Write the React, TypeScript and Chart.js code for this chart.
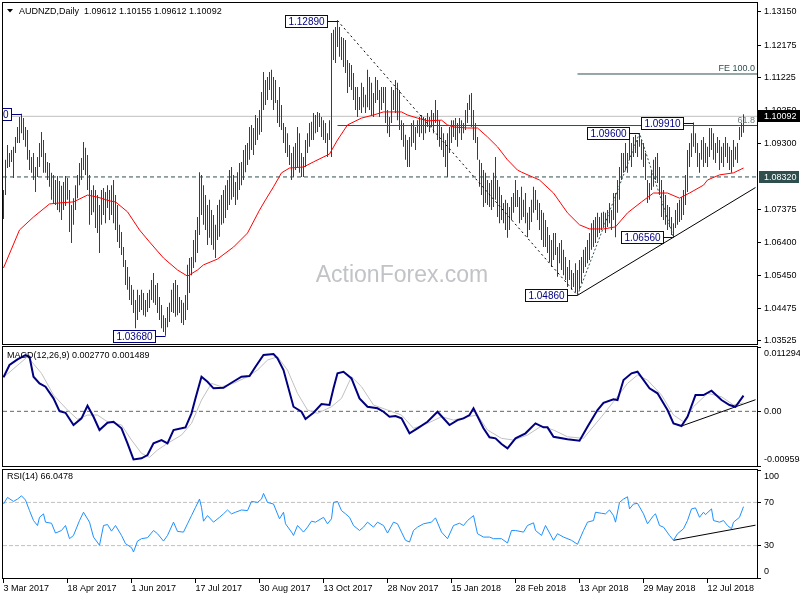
import React, { useEffect, useRef } from 'react';
import { Chart, registerables } from 'chart.js';

Chart.register(...registerables);

const FONT = '"Liberation Sans", Arial, sans-serif';

// ---------- instrument ----------
const SYMBOL = 'AUDNZD';
const PERIOD = 'Daily';
const lastOHLC = [1.09612, 1.10155, 1.09612, 1.10092];
const WATERMARK = 'ActionForex.com';

// ---------- time axis ----------
const dateIdx = [0, 32, 64, 96, 128, 160, 192, 224, 256, 288, 320, 352];
const dateLabels = ['3 Mar 2017', '18 Apr 2017', '1 Jun 2017', '17 Jul 2017', '30 Aug 2017', '13 Oct 2017',
  '28 Nov 2017', '15 Jan 2018', '28 Feb 2018', '13 Apr 2018', '29 May 2018', '12 Jul 2018'];
const X_MIN = -0.25;
const X_MAX = 376.75;

// ---------- daily bars (high / low) ----------
const highs = [
  1.0794, 1.0882, 1.0925, 1.0902, 1.0911, 1.0920, 1.0949, 1.0978, 1.1007, 1.1017,
  1.1004, 1.0978, 1.0969, 1.0911, 1.0890, 1.0902, 1.0861, 1.0890, 1.0931, 1.0963,
  1.0940, 1.0902, 1.0876, 1.0873, 1.0844, 1.0838, 1.0823, 1.0835, 1.0820, 1.0806,
  1.0817, 1.0835, 1.0829, 1.0794, 1.0750, 1.0770, 1.0808, 1.0838, 1.0873, 1.0887,
  1.0934, 1.0917, 1.0896, 1.0838, 1.0794, 1.0808, 1.0794, 1.0779, 1.0750, 1.0794,
  1.0800, 1.0788, 1.0808, 1.0794, 1.0808, 1.0823, 1.0779, 1.0750, 1.0692, 1.0671,
  1.0627, 1.0589, 1.0569, 1.0540, 1.0516, 1.0502, 1.0472, 1.0502, 1.0487, 1.0502,
  1.0493, 1.0472, 1.0493, 1.0502, 1.0531, 1.0551, 1.0516, 1.0522, 1.0481, 1.0458,
  1.0428, 1.0420, 1.0452, 1.0464, 1.0502, 1.0522, 1.0531, 1.0516, 1.0481, 1.0472,
  1.0464, 1.0487, 1.0575, 1.0595, 1.0598, 1.0648, 1.0677, 1.0715, 1.0846, 1.0838,
  1.0808, 1.0779, 1.0750, 1.0765, 1.0735, 1.0721, 1.0692, 1.0750, 1.0765, 1.0779,
  1.0794, 1.0808, 1.0823, 1.0852, 1.0861, 1.0838, 1.0817, 1.0846, 1.0873, 1.0876,
  1.0911, 1.0925, 1.0931, 1.0978, 1.0984, 1.0975, 1.1013, 1.1004, 1.1028, 1.1080,
  1.1139, 1.1115, 1.1124, 1.1139, 1.1145, 1.1124, 1.1115, 1.1057, 1.1095, 1.1042,
  1.0990, 1.0978, 1.0960, 1.0925, 1.0902, 1.0920, 1.0931, 1.0978, 1.0960, 1.0902,
  1.0890, 1.0940, 1.0960, 1.0990, 1.0993, 1.1019, 1.1013, 1.1022, 1.1019, 1.1007,
  1.0998, 1.0990, 1.0960, 1.0998, 1.1253, 1.1262, 1.1270, 1.1289, 1.1270, 1.1241,
  1.1238, 1.1232, 1.1174, 1.1165, 1.1159, 1.1136, 1.1095, 1.1095, 1.1066, 1.1107,
  1.1095, 1.1072, 1.1145, 1.1124, 1.1107, 1.1077, 1.1124, 1.1115, 1.1086, 1.1095,
  1.1095, 1.1095, 1.1028, 1.1007, 1.1095, 1.1086, 1.1115, 1.1107, 1.1086, 1.0998,
  1.0990, 1.0955, 1.0940, 1.0949, 1.0990, 1.0998, 1.0978, 1.0998, 1.1007, 1.1013,
  1.1007, 1.1004, 1.1019, 1.1007, 1.1028, 1.1019, 1.1057, 1.1028, 1.0998, 1.0978,
  1.0960, 1.0940, 1.0960, 1.0978, 1.0998, 1.0998, 1.1004, 1.0990, 1.1004, 1.0998,
  1.0990, 1.1028, 1.1048, 1.1072, 1.1077, 1.1028, 1.0990, 1.0949, 1.0882, 1.0873,
  1.0852, 1.0844, 1.0823, 1.0814, 1.0823, 1.0844, 1.0890, 1.0823, 1.0803, 1.0779,
  1.0756, 1.0765, 1.0756, 1.0744, 1.0773, 1.0785, 1.0823, 1.0794, 1.0773, 1.0803,
  1.0765, 1.0785, 1.0727, 1.0744, 1.0765, 1.0803, 1.0794, 1.0765, 1.0756, 1.0735,
  1.0727, 1.0706, 1.0686, 1.0662, 1.0648, 1.0668, 1.0668, 1.0627, 1.0639, 1.0648,
  1.0619, 1.0598, 1.0569, 1.0589, 1.0560, 1.0551, 1.0580, 1.0560, 1.0589, 1.0598,
  1.0619, 1.0627, 1.0648, 1.0668, 1.0697, 1.0706, 1.0715, 1.0727, 1.0715, 1.0727,
  1.0730, 1.0727, 1.0735, 1.0756, 1.0735, 1.0785, 1.0785, 1.0823, 1.0861, 1.0902,
  1.0902, 1.0931, 1.0902, 1.0940, 1.0931, 1.0949, 1.0955, 1.0940, 1.0960, 1.0940,
  1.0931, 1.0902, 1.0823, 1.0814, 1.0852, 1.0882, 1.0890, 1.0902, 1.0861, 1.0823,
  1.0794, 1.0779, 1.0750, 1.0744, 1.0715, 1.0697, 1.0735, 1.0756, 1.0765, 1.0773,
  1.0794, 1.0838, 1.0911, 1.0931, 1.0960, 1.0991, 1.0960, 1.0931, 1.0902, 1.0940,
  1.0949, 1.0931, 1.0920, 1.0975, 1.0975, 1.0960, 1.0931, 1.0949, 1.0940, 1.0920,
  1.0931, 1.0949, 1.0931, 1.0920, 1.0911, 1.0940, 1.0920, 1.0931, 1.0978, 1.0990,
  1.10155,
];
const lows = [
  1.0709, 1.0779, 1.0858, 1.0861, 1.0876, 1.0829, 1.0902, 1.0931, 1.0931, 1.0960,
  1.0940, 1.0920, 1.0882, 1.0852, 1.0844, 1.0823, 1.0788, 1.0832, 1.0861, 1.0890,
  1.0844, 1.0844, 1.0823, 1.0803, 1.0765, 1.0753, 1.0750, 1.0735, 1.0729, 1.0706,
  1.0735, 1.0747, 1.0765, 1.0671, 1.0639, 1.0692, 1.0735, 1.0770, 1.0808, 1.0823,
  1.0852, 1.0838, 1.0794, 1.0692, 1.0721, 1.0729, 1.0683, 1.0668, 1.0610, 1.0692,
  1.0721, 1.0697, 1.0741, 1.0706, 1.0721, 1.0697, 1.0677, 1.0642, 1.0624, 1.0604,
  1.0569, 1.0516, 1.0502, 1.0472, 1.0458, 1.0434, 1.0390, 1.0414, 1.0437, 1.0443,
  1.0428, 1.0423, 1.0437, 1.0449, 1.0472, 1.0464, 1.0458, 1.0434, 1.0414, 1.0390,
  1.0379, 1.0368, 1.0393, 1.0408, 1.0437, 1.0434, 1.0423, 1.0428, 1.0434, 1.0405,
  1.0399, 1.0414, 1.0443, 1.0493, 1.0545, 1.0566, 1.0583, 1.0610, 1.0662, 1.0721,
  1.0692, 1.0677, 1.0633, 1.0654, 1.0633, 1.0619, 1.0595, 1.0648, 1.0657, 1.0692,
  1.0697, 1.0712, 1.0735, 1.0750, 1.0765, 1.0773, 1.0750, 1.0765, 1.0794, 1.0808,
  1.0823, 1.0846, 1.0867, 1.0882, 1.0911, 1.0896, 1.0925, 1.0940, 1.0955, 1.0963,
  1.1028, 1.1042, 1.1057, 1.1086, 1.1057, 1.1028, 1.1048, 1.0990, 1.0978, 1.0969,
  1.0931, 1.0902, 1.0890, 1.0867, 1.0823, 1.0832, 1.0852, 1.0861, 1.0844, 1.0832,
  1.0832, 1.0861, 1.0902, 1.0920, 1.0940, 1.0940, 1.0960, 1.0963, 1.0978, 1.0949,
  1.0940, 1.0931, 1.0890, 1.0940, 1.0890, 1.1174, 1.1165, 1.1212, 1.1183, 1.1174,
  1.1153, 1.1136, 1.1077, 1.1095, 1.1086, 1.1057, 1.1028, 1.1007, 1.1028, 1.1019,
  1.1036, 1.1019, 1.1036, 1.1028, 1.1013, 1.1007, 1.1048, 1.1057, 1.1007, 1.1028,
  1.1048, 1.0990, 1.0960, 1.0949, 1.0990, 1.1028, 1.1019, 1.0998, 1.0969, 1.0940,
  1.0920, 1.0882, 1.0861, 1.0861, 1.0920, 1.0931, 1.0911, 1.0960, 1.0949, 1.0960,
  1.0940, 1.0960, 1.0978, 1.0963, 1.0978, 1.0960, 1.0990, 1.0940, 1.0920, 1.0911,
  1.0890, 1.0861, 1.0832, 1.0902, 1.0931, 1.0949, 1.0940, 1.0920, 1.0960, 1.0940,
  1.0960, 1.0969, 1.0990, 1.1028, 1.0978, 1.0940, 1.0931, 1.0882, 1.0803, 1.0779,
  1.0744, 1.0756, 1.0750, 1.0744, 1.0735, 1.0744, 1.0765, 1.0715, 1.0697, 1.0706,
  1.0697, 1.0677, 1.0654, 1.0677, 1.0706, 1.0727, 1.0744, 1.0744, 1.0697, 1.0706,
  1.0715, 1.0697, 1.0656, 1.0677, 1.0700, 1.0727, 1.0735, 1.0706, 1.0677, 1.0648,
  1.0627, 1.0627, 1.0610, 1.0583, 1.0569, 1.0589, 1.0604, 1.0540, 1.0580, 1.0560,
  1.0545, 1.0531, 1.0510, 1.0531, 1.0502, 1.0510, 1.0496, 1.0486, 1.0502, 1.0522,
  1.0551, 1.0569, 1.0580, 1.0589, 1.0619, 1.0627, 1.0639, 1.0656, 1.0668, 1.0677,
  1.0686, 1.0668, 1.0686, 1.0697, 1.0677, 1.0706, 1.0656, 1.0727, 1.0765, 1.0823,
  1.0844, 1.0852, 1.0844, 1.0882, 1.0861, 1.0890, 1.0902, 1.0890, 1.0920, 1.0882,
  1.0861, 1.0823, 1.0756, 1.0765, 1.0794, 1.0803, 1.0823, 1.0814, 1.0779, 1.0715,
  1.0706, 1.0692, 1.0677, 1.0686, 1.0662, 1.0656, 1.0683, 1.0692, 1.0700, 1.0706,
  1.0721, 1.0750, 1.0788, 1.0861, 1.0890, 1.0920, 1.0902, 1.0861, 1.0844, 1.0882,
  1.0861, 1.0873, 1.0861, 1.0890, 1.0911, 1.0882, 1.0873, 1.0902, 1.0852, 1.0873,
  1.0861, 1.0890, 1.0873, 1.0852, 1.0844, 1.0861, 1.0882, 1.0873, 1.0940, 1.0949,
  1.09612,
];

// ---------- moving average (read at sample bars) ----------
const maIdx = [0, 8, 15, 23, 28, 35, 42, 47, 53, 56, 62, 68, 73, 80, 87, 92, 97, 100, 107, 115,
  122, 128, 131, 135, 139, 143, 150, 155, 163, 167, 172, 179, 185, 190, 199, 202, 207, 212, 219, 222,
  225, 232, 237, 242, 247, 252, 257, 259, 268, 275, 282, 288, 293, 300, 306, 312, 319, 325, 332, 338,
  343, 350, 352, 358, 365, 370];
const maVal = [1.0566, 1.0677, 1.0715, 1.0753, 1.0756, 1.0759, 1.0779, 1.0773, 1.0762, 1.0759,
  1.0730, 1.0677, 1.0642, 1.0595, 1.0560, 1.0542, 1.0560, 1.0575, 1.0592, 1.0627,
  1.0668, 1.0735, 1.0765, 1.0803, 1.0844, 1.0858, 1.0861, 1.0876, 1.0899, 1.0940,
  1.0984, 1.1004, 1.1013, 1.1022, 1.1022, 1.1013, 1.1004, 1.0996, 1.0998, 1.0984,
  1.0978, 1.0975, 1.0975, 1.0949, 1.0920, 1.0882, 1.0852, 1.0846, 1.0823, 1.0785,
  1.0727, 1.0692, 1.0680, 1.0680, 1.0686, 1.0727, 1.0759, 1.0785, 1.0785, 1.0770,
  1.0785, 1.0808, 1.0823, 1.0838, 1.0844, 1.0858];

// ---------- price levels & drawings ----------
const priceTicks = [1.1315, 1.12175, 1.11225, 1.1025, 1.093, 1.07375, 1.064, 1.0545, 1.04475, 1.03525];
const PRICE_MIN = 1.03437;
const PRICE_MAX = 1.13404;
const bidPrice = 1.10092;
const supportLevel = 1.0832;
const fib618 = 1.09823;
const fib618Start = 167;
const fe100 = 1.11329;
const fe100Start = 287;
const retraceIdx = [167, 287];
const retraceVal = [1.1289, 1.0486];
const feIdx = [287, 318, 335];
const feVal = [1.0486, 1.096, 1.0656];
const trendIdx = [287, 376];
const trendVal = [1.0486, 1.0801];
const pivotIdx = [9, 167, 81, 287, 318, 335, 345];
const pivotVal = [1.1017, 1.1289, 1.0368, 1.0486, 1.096, 1.0656, 1.0991];

// ---------- MACD(12,26,9) ----------
const macdIdx = [0, 3, 7, 11, 13, 15, 18, 21, 25, 28, 31, 35, 39, 42, 45, 48, 52, 55, 59, 62,
  65, 69, 72, 75, 79, 82, 85, 89, 91, 94, 96, 99, 102, 105, 110, 114, 119, 123, 126, 130,
  135, 137, 140, 145, 149, 151, 155, 159, 163, 165, 167, 170, 174, 178, 182, 187, 190, 193, 196, 199,
  203, 207, 212, 217, 223, 227, 230, 233, 235, 240, 243, 246, 249, 252, 256, 261, 266, 270, 272, 275,
  282, 288, 292, 297, 300, 305, 307, 310, 314, 317, 323, 327, 332, 335, 339, 342, 346, 350, 354, 359,
  363, 366, 370];
const macdVal = [0.00597, 0.00813, 0.00913, 0.00988, 0.00958, 0.00607, 0.00491, 0.00432, 0.00228, 0.00005,
  -0.00025, -0.0024, -0.00123, 0.00098, -0.00095, -0.00328, -0.002, -0.00183, -0.00298, -0.00562,
  -0.00843, -0.00825, -0.00767, -0.00562, -0.00504, -0.00562, -0.00328, -0.00298, -0.00281, -0.00035,
  0.00228, 0.00607, 0.0052, 0.00404, 0.00414, 0.00502, 0.00607, 0.0062, 0.00783, 0.00988,
  0.01006, 0.0093, 0.00725, 0.00081, -0.00007, -0.00135, -0.00025, 0.00128, 0.00111, 0.00404,
  0.00667, 0.00695, 0.00579, 0.00228, 0.00081, 0.00053, -0.00007, -0.00095, -0.00082, -0.00123,
  -0.00386, -0.00298, -0.00183, -0.00007, -0.0024, -0.00153, -0.00123, -0.00065, 0.00053, -0.00298,
  -0.00456, -0.00474, -0.00574, -0.00649, -0.00474, -0.00386, -0.00211, -0.00281, -0.00281, -0.00446,
  -0.00491, -0.00516, -0.0027, 0.00023, 0.00151, 0.00211, 0.00198, 0.00549, 0.00667, 0.00695,
  0.00404, 0.00316, 0.00023, -0.00211, -0.00258, -0.00095, 0.00286, 0.00286, 0.00362, 0.00198,
  0.00111, 0.00081, 0.00277];
const sigIdx = [0, 12, 19, 25, 32, 37, 42, 47, 52, 59, 64, 69, 73, 77, 82, 89, 94, 99, 104, 109,
  115, 122, 127, 132, 137, 142, 147, 152, 157, 164, 169, 174, 179, 185, 192, 199, 205, 212, 219, 225,
  232, 237, 242, 249, 255, 262, 269, 275, 282, 290, 299, 305, 312, 317, 322, 329, 335, 340, 345, 352,
  359, 365, 370];
const sigVal = [0.00597, 0.00958, 0.00667, 0.00286, 0.00023, -0.0014, -0.00065, -0.00065, -0.00183, -0.0024,
  -0.00504, -0.00737, -0.00807, -0.00679, -0.00562, -0.00416, -0.00211, 0.00198, 0.00491, 0.00432,
  0.00491, 0.00607, 0.00725, 0.009, 0.00958, 0.00725, 0.00316, 0.00023, -0.00035, 0.00081,
  0.00228, 0.00607, 0.00432, 0.00111, 0.00023, -0.00065, -0.00298, -0.00211, -0.00095, -0.00153,
  -0.00095, -0.00065, -0.00328, -0.00474, -0.00504, -0.00416, -0.00258, -0.00328, -0.00446, -0.00474,
  -0.00095, 0.00169, 0.00491, 0.00637, 0.00549, 0.00286, -0.00065, -0.00183, 0.00081, 0.00316,
  0.00256, 0.00111, 0.001489];
const MACD_MIN = -0.009594;
const MACD_MAX = 0.011294;
const macdTickVals = [0.011294, 0, -0.009594];
const macdTickLabels = ['0.011294', '0.00', '-0.009594'];
const macdTrendIdx = [339, 376];
const macdTrendVal = [-0.00258, 0.00204];

// ---------- RSI(14) ----------
const rsiIdx = [0, 2, 5, 7, 9, 11, 13, 15, 17, 18, 20, 21, 24, 26, 29, 31, 33, 35, 38, 40,
  43, 45, 48, 50, 52, 54, 56, 59, 61, 64, 65, 67, 69, 72, 75, 77, 80, 82, 85, 87,
  90, 92, 94, 96, 98, 99, 100, 102, 105, 108, 110, 112, 114, 116, 119, 122, 124, 127, 129, 130,
  132, 135, 138, 140, 141, 144, 145, 147, 150, 152, 154, 156, 160, 162, 164, 165, 167, 169, 171, 173,
  175, 178, 180, 182, 185, 187, 190, 192, 195, 197, 199, 201, 203, 205, 207, 210, 214, 216, 219, 222,
  225, 228, 230, 232, 235, 237, 240, 243, 245, 249, 252, 254, 256, 260, 262, 265, 266, 269, 271, 275,
  277, 280, 284, 287, 290, 292, 295, 296, 299, 301, 303, 305, 306, 308, 310, 312, 313, 315, 317, 320,
  322, 325, 326, 328, 330, 333, 335, 337, 340, 342, 344, 346, 348, 350, 351, 354, 355, 358, 360, 362,
  364, 365, 368, 370];
const rsiVal = [68.5, 74.6, 70.9, 73.1, 76.1, 72.2, 62.4, 53.2, 48.6, 56.2, 59.4, 51.7, 50.7, 41.6, 44.0, 48.6, 36.4, 39.4, 53.2, 60.9,
  51.7, 37.9, 30.3, 48.6, 49.5, 43.4, 48.6, 39.4, 31.8, 28.1, 24.1, 34.2, 36.4, 37.3, 44.0, 41.0, 34.2, 39.4, 51.7, 43.1,
  42.5, 50.2, 57.8, 65.4, 73.1, 65.4, 52.6, 57.8, 51.7, 56.2, 59.4, 63.0, 59.4, 60.9, 63.0, 62.4, 70.9, 70.0, 73.1, 78.3,
  70.0, 68.5, 54.8, 60.9, 50.2, 42.5, 39.4, 48.6, 42.5, 47.1, 52.6, 51.7, 56.2, 50.2, 54.8, 70.0, 70.9, 62.4, 59.4, 56.2,
  48.6, 44.0, 47.1, 51.7, 47.1, 51.7, 48.6, 41.6, 51.7, 50.2, 42.5, 34.9, 33.3, 44.0, 47.1, 50.2, 51.7, 55.7, 42.5, 36.4,
  48.6, 50.7, 48.6, 53.2, 57.8, 41.0, 37.9, 37.9, 36.4, 36.4, 32.4, 44.0, 44.0, 42.5, 48.6, 51.1, 44.0, 39.4, 48.6, 34.9,
  41.0, 37.9, 34.9, 31.2, 44.0, 51.7, 53.2, 60.9, 59.9, 59.4, 63.0, 57.8, 51.7, 70.0, 73.1, 75.2, 64.0, 68.5, 69.1, 59.4,
  50.2, 57.8, 59.4, 48.6, 47.1, 39.4, 34.9, 41.0, 45.6, 53.2, 64.0, 64.9, 56.2, 60.9, 58.7, 64.0, 53.2, 51.7, 53.2, 48.6,
  45.6, 51.7, 56.2, 66.0478];
const rsiTickVals = [100, 70, 30, 0];
const rsiLevels = [70, 30];
const rsiTrendIdx = [335, 376];
const rsiTrendVal = [34.9, 48.9];

// ---------- colours ----------
const BAR_COLOR = '#1a4766';
const SLATE = '#2f4f4f';
const NAVY = '#000080';

const pts = (xs: number[], ys: number[]) => xs.map((x, k) => ({ x, y: ys[k] }));
const hLine = (v: number, from = X_MIN) => [{ x: from, y: v }, { x: X_MAX, y: v }];

const lineDs = (data: any[], color: string, extra: any = {}) => ({
  type: 'line',
  data,
  borderColor: color,
  borderWidth: 1,
  pointRadius: 0,
  tension: 0,
  fill: false,
  ...extra,
});

const xScale = (show: boolean) => ({
  type: 'linear',
  min: X_MIN,
  max: X_MAX,
  offset: false,
  display: show,
  afterBuildTicks: (s: any) => { s.ticks = dateIdx.map((v) => ({ value: v })); },
  afterFit: (s: any) => {
    s.height = show ? 22 : 0;
    s.paddingLeft = 0;
    s.paddingRight = 0;
  },
  grid: { drawOnChartArea: false, drawTicks: true, tickLength: 5, color: '#000' },
  border: { display: true, color: '#000' },
  ticks: {
    align: 'start',
    autoSkip: false,
    maxRotation: 0,
    padding: 0,
    color: '#000',
    font: { family: FONT, size: 9 },
    callback: (v: number) => {
      const k = dateIdx.indexOf(v);
      return k >= 0 ? dateLabels[k] : '';
    },
  },
});

const yRight = (min: number, max: number, tickVals: number[], labelFn: (v: number, i: number) => any) => ({
  type: 'linear',
  position: 'right',
  min,
  max,
  afterBuildTicks: (s: any) => { s.ticks = tickVals.map((v) => ({ value: v })); },
  afterFit: (s: any) => { s.width = 43; s.paddingTop = 0; s.paddingBottom = 0; },
  grid: { drawOnChartArea: false, drawTicks: true, tickLength: 4, color: '#000' },
  border: { display: true, color: '#000' },
  ticks: {
    autoSkip: false,
    padding: 3,
    color: '#000',
    font: { family: FONT, size: 9, lineHeight: 1.34 },
    callback: (v: number, i: number) => labelFn(v, i),
  },
});

const drawBorder = (chart: any) => {
  const { ctx, chartArea: ca } = chart;
  ctx.save();
  ctx.strokeStyle = '#000';
  ctx.lineWidth = 1;
  ctx.strokeRect(ca.left - 0.5, ca.top - 0.5, ca.right - ca.left + 1, ca.bottom - ca.top + 1);
  ctx.restore();
};

const baseOptions = (padding: any) => ({
  responsive: false,
  animation: false,
  devicePixelRatio: 1,
  events: [],
  layout: { padding },
  plugins: { legend: { display: false }, tooltip: { enabled: false } },
});

function makeMain(canvas: HTMLCanvasElement) {
  const bars = highs.map((h, i) => ({ x: i, y: [lows[i], h] }));
  const decor = {
    id: 'mainDecor',
    beforeDatasetsDraw(chart: any) {
      const { ctx } = chart;
      ctx.save();
      ctx.font = `23px ${FONT}`;
      ctx.fillStyle = '#c2c3c7';
      ctx.textAlign = 'center';
      ctx.textBaseline = 'alphabetic';
      ctx.fillText(WATERMARK, 402, 282);
      ctx.restore();
    },
    afterDraw(chart: any) {
      const { ctx, chartArea: ca, scales } = chart;
      const xs = scales.x;
      const ys = scales.y;
      ctx.save();
      // level captions
      ctx.font = `9px ${FONT}`;
      ctx.textAlign = 'right';
      ctx.textBaseline = 'bottom';
      ctx.fillStyle = SLATE;
      ctx.fillText('FE 100.0', ca.right - 2, ys.getPixelForValue(fe100) - 1);
      ctx.fillStyle = '#6e7f7f';
      ctx.fillText('61.8', ca.right - 2, ys.getPixelForValue(fib618) - 1);

      // pivot labels
      ctx.save();
      ctx.beginPath();
      ctx.rect(ca.left, ca.top, ca.right - ca.left, ca.bottom - ca.top);
      ctx.clip();
      ctx.font = `10px ${FONT}`;
      ctx.textAlign = 'center';
      ctx.textBaseline = 'middle';
      pivotIdx.forEach((idx, k) => {
        const px = xs.getPixelForValue(idx);
        const py = Math.round(ys.getPixelForValue(pivotVal[k]));
        const text = pivotVal[k].toFixed(5);
        const w = Math.round(ctx.measureText(text).width + 6);
        const right = Math.round(px - 11);
        const left = right - w;
        ctx.fillStyle = '#fff';
        ctx.fillRect(left, py - 6, w, 12);
        ctx.strokeStyle = NAVY;
        ctx.lineWidth = 1;
        ctx.strokeRect(left + 0.5, py - 5.5, w, 12);
        ctx.beginPath();
        ctx.moveTo(right + 0.5, py + 0.5);
        ctx.lineTo(px, py + 0.5);
        ctx.stroke();
        ctx.fillStyle = NAVY;
        ctx.fillText(text, left + w / 2 + 0.5, py + 1);
      });
      ctx.restore();

      // header
      ctx.fillStyle = '#000';
      ctx.beginPath();
      ctx.moveTo(7, 9);
      ctx.lineTo(13, 9);
      ctx.lineTo(10, 12.5);
      ctx.closePath();
      ctx.fill();
      ctx.font = `9px ${FONT}`;
      ctx.textAlign = 'left';
      ctx.textBaseline = 'middle';
      ctx.fillText(`${SYMBOL},${PERIOD}  ${lastOHLC.map((v) => v.toFixed(5)).join(' ')}`, 19, 11.5);

      // right-axis price boxes
      const bidY = Math.round(ys.getPixelForValue(bidPrice));
      ctx.fillStyle = '#000';
      ctx.fillRect(ca.right + 1, bidY - 6, 42, 12);
      ctx.fillStyle = '#fff';
      ctx.fillText(bidPrice.toFixed(5), 764, bidY + 0.5);
      const supY = Math.round(ys.getPixelForValue(supportLevel));
      ctx.fillStyle = SLATE;
      ctx.fillRect(ca.right + 2, supY - 6, 40, 12);
      ctx.fillStyle = '#fff';
      ctx.fillText(supportLevel.toFixed(5), 764, supY + 0.5);
      ctx.restore();
      drawBorder(chart);
    },
  };

  return new Chart(canvas, {
    type: 'bar',
    data: {
      datasets: [
        lineDs(pts(maIdx, maVal), '#ff0000', { order: 0 }),
        lineDs(pts(trendIdx, trendVal), '#000', { order: 1 }),
        lineDs(pts(retraceIdx, retraceVal), '#000', { order: 1, borderDash: [2, 3] }),
        lineDs(pts(feIdx, feVal), SLATE, { order: 1, borderDash: [2, 2] }),
        lineDs(hLine(fib618, fib618Start), SLATE, { order: 2 }),
        lineDs(hLine(fe100, fe100Start), SLATE, { order: 2 }),
        lineDs(hLine(supportLevel), SLATE, { order: 2, borderDash: [4, 3] }),
        lineDs(hLine(bidPrice), '#c0c0c0', { order: 4 }),
        {
          type: 'bar',
          data: bars,
          backgroundColor: BAR_COLOR,
          borderWidth: 0,
          barThickness: 1,
          inflateAmount: 0,
          grouped: false,
          order: 3,
        },
      ],
    },
    options: {
      ...baseOptions({ left: 3, top: 3, bottom: 1, right: 0 }),
      scales: {
        x: xScale(false),
        y: yRight(PRICE_MIN, PRICE_MAX, priceTicks, (v) => Number(v).toFixed(5)),
      },
    },
    plugins: [decor],
  } as any);
}

function makeMacd(canvas: HTMLCanvasElement) {
  const decor = {
    id: 'macdDecor',
    afterDraw(chart: any) {
      const { ctx } = chart;
      ctx.save();
      ctx.fillStyle = '#000';
      ctx.font = `9px ${FONT}`;
      ctx.textAlign = 'left';
      ctx.textBaseline = 'middle';
      const m = macdVal[macdVal.length - 1].toFixed(6);
      const s = sigVal[sigVal.length - 1].toFixed(6);
      ctx.fillText(`MACD(12,26,9) ${m} ${s}`, 7, 11);
      ctx.restore();
      drawBorder(chart);
    },
  };
  return new Chart(canvas, {
    type: 'line',
    data: {
      datasets: [
        lineDs(pts(macdIdx, macdVal), NAVY, { borderWidth: 2, order: 0 }),
        lineDs(pts(sigIdx, sigVal), '#c0c0c0', { order: 1 }),
        lineDs(pts(macdTrendIdx, macdTrendVal), '#000', { order: 1 }),
        lineDs(hLine(0), '#666', { order: 2, borderDash: [4, 3] }),
      ],
    },
    options: {
      ...baseOptions({ left: 3, top: 2, bottom: 2, right: 0 }),
      scales: {
        x: xScale(false),
        y: yRight(MACD_MIN, MACD_MAX, macdTickVals, (v, i) => {
          const lab = macdTickLabels[i];
          if (i === 0) return ['', lab];
          if (i === macdTickVals.length - 1) return [lab, ''];
          return lab;
        }),
      },
    },
    plugins: [decor],
  } as any);
}

function makeRsi(canvas: HTMLCanvasElement) {
  const decor = {
    id: 'rsiDecor',
    afterDraw(chart: any) {
      const { ctx } = chart;
      ctx.save();
      ctx.fillStyle = '#000';
      ctx.font = `9px ${FONT}`;
      ctx.textAlign = 'left';
      ctx.textBaseline = 'middle';
      ctx.fillText(`RSI(14) ${rsiVal[rsiVal.length - 1].toFixed(4)}`, 7, 9);
      ctx.restore();
      drawBorder(chart);
    },
  };
  return new Chart(canvas, {
    type: 'line',
    data: {
      datasets: [
        lineDs(pts(rsiIdx, rsiVal), '#1e90ff', { order: 0 }),
        lineDs(pts(rsiTrendIdx, rsiTrendVal), '#000', { order: 1 }),
        ...rsiLevels.map((lv) => lineDs(hLine(lv), '#c0c0c0', { order: 2, borderDash: [4, 2] })),
      ],
    },
    options: {
      ...baseOptions({ left: 3, top: 2, bottom: 0, right: 0 }),
      scales: {
        x: xScale(true),
        y: yRight(0, 100, rsiTickVals, (v, i) => {
          const lab = String(rsiTickVals[i]);
          if (i === 0) return ['', lab];
          if (i === rsiTickVals.length - 1) return [lab, ''];
          return lab;
        }),
      },
    },
    plugins: [decor],
  } as any);
}

export default function App() {
  const mainRef = useRef<HTMLCanvasElement>(null);
  const macdRef = useRef<HTMLCanvasElement>(null);
  const rsiRef = useRef<HTMLCanvasElement>(null);

  useEffect(() => {
    document.body.style.margin = '0';
    const charts = [
      makeMain(mainRef.current as HTMLCanvasElement),
      makeMacd(macdRef.current as HTMLCanvasElement),
      makeRsi(rsiRef.current as HTMLCanvasElement),
    ];
    return () => charts.forEach((c) => c.destroy());
  }, []);

  return (
    <div style={{ position: 'fixed', left: 0, top: 0, width: 800, height: 600, background: '#fff', overflow: 'hidden' }}>
      <canvas ref={mainRef} width={800} height={345} style={{ position: 'absolute', left: 0, top: 0 }} />
      <canvas ref={macdRef} width={800} height={123} style={{ position: 'absolute', left: 0, top: 345 }} />
      <canvas ref={rsiRef} width={800} height={132} style={{ position: 'absolute', left: 0, top: 468 }} />
    </div>
  );
}
